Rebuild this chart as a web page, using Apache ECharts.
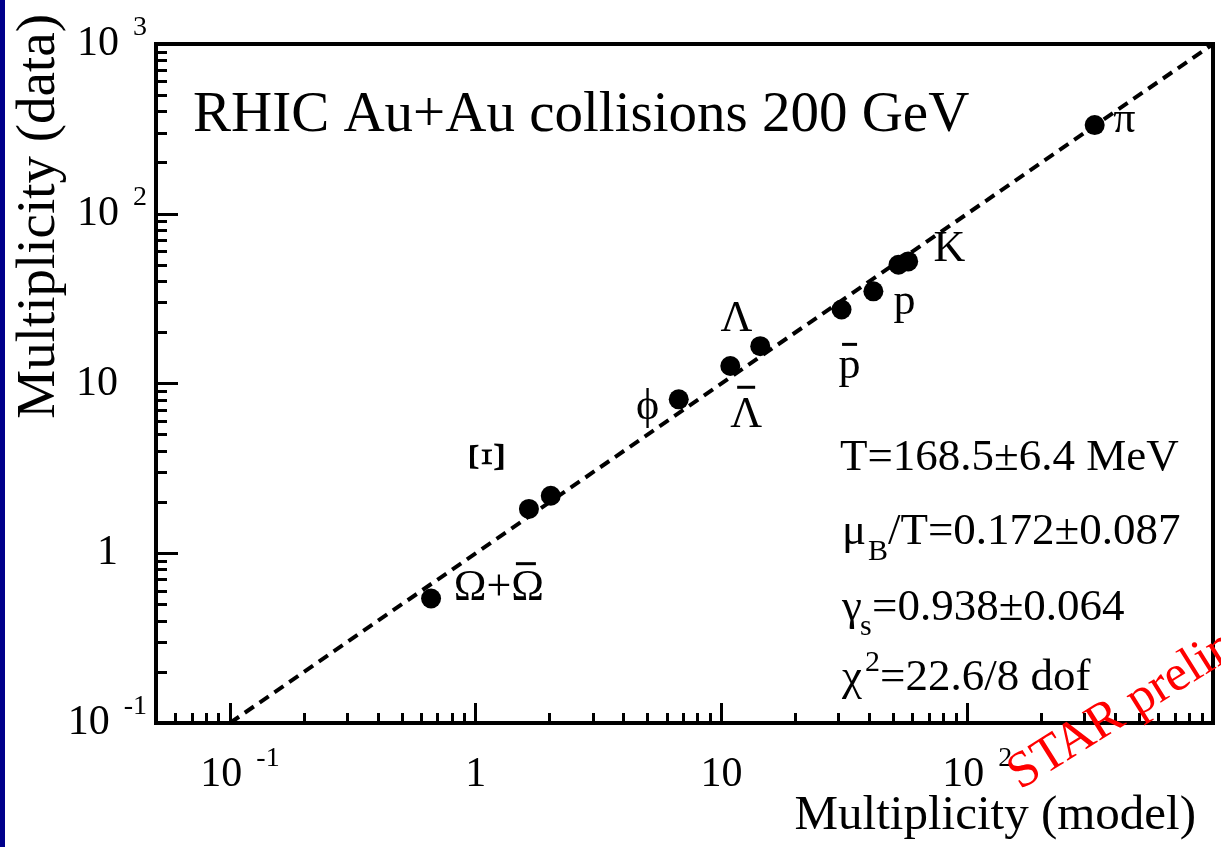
<!DOCTYPE html>
<html><head><meta charset="utf-8">
<script src="https://cdn.jsdelivr.net/npm/echarts@6/dist/echarts.min.js"></script>
<style>html,body{margin:0;padding:0;background:#fff;overflow:hidden}#c{width:1221px;height:847px}</style>
</head><body><div id="c"></div><script>
// ---- data (real units) ----
const particleNames = ['Ω+Ω̄', 'Ξ̄', 'Ξ', 'ϕ', 'Λ̄', 'Λ', 'p̄', 'p', 'K⁻', 'K⁺', 'π'];
const modelValues   = [0.658, 1.646, 2.02, 6.70, 10.86, 14.38, 30.8, 41.5, 52.5, 57.5, 330];
const dataValues    = [0.541, 1.825, 2.18, 8.07, 12.67, 16.6, 27.3, 34.9, 50.1, 52.4, 333];

// annotation labels placed in data units
const labelTexts    = ['π', 'K', 'p', 'p', 'Λ', 'Λ', 'ϕ', 'Ξ', 'Ω+Ω'];
const labelModelPos = [436, 84.5, 55.5, 33.2, 11.5, 12.6, 5.0, 1.14, 1.243];
const labelDataPos  = [356, 61.4, 30.0, 12.6, 23.8, 6.5, 7.24, 3.69, 0.619];
const labelRotate   = [0, 0, 0, 0, 0, 0, 0, 90, 0];
const labelSizes    = [44, 44, 44, 44, 44, 44, 44, 50, 44];
// overbars of the antiparticle labels (p̄, Λ̄, Ω̄)
const barModelPos   = [33.2, 12.6, 1.60];
const barDataPos    = [17.0, 9.5, 0.868];
const barWidths     = [15, 18, 20];

// y = x reference line
const diagX = [0.1, 1000];

// axes
const xRange = [0.05, 1000];
const yRange = [0.1, 1000];
const xTickValues = [0.1, 1, 10, 100];
const xTickLabels = [['10', '-1'], ['1', ''], ['10', ''], ['10', '2']];
const yTickValues = [0.1, 1, 10, 100, 1000];
const yTickLabels = [['10', '-1'], ['1', ''], ['10', ''], ['10', '2'], ['10', '3']];
const minorMultipliers = [2, 3, 4, 5, 6, 7, 8, 9];

const fitParams = ['T=168.5±6.4 MeV', 'μ|B|/T=0.172±0.087', 'γ|s|=0.938±0.064', 'χ|2|=22.6/8 dof'];
const titleText = 'RHIC Au+Au collisions 200 GeV';
const xTitle = 'Multiplicity (model)';
const yTitle = 'Multiplicity (data)';
const watermark = 'STAR preliminary';

// ---- helpers ----
const L = Math.log10;
const SERIF = "'Liberation Serif', 'DejaVu Serif', serif";
function minors(lo, hi) {
  const out = [];
  for (let e = -3; e <= 3; e++) {
    minorMultipliers.forEach(m => {
      const v = m * Math.pow(10, e);
      if (v >= lo * 0.999 && v <= hi * 1.001) out.push(L(v));
    });
  }
  return out;
}
function labelFor(values, labels, isY) {
  return function (v) {
    let idx = 0, best = 1e9;
    values.forEach((t, i) => { const d = Math.abs(L(t) - v); if (d < best) { best = d; idx = i; } });
    const [b, s] = labels[idx];
    if (s) return (isY ? '' : '{lp| }') + '{b|' + b + '}{s|' + s + '}';
    return '{b|' + b + '}' + (isY ? '{sp| }' : '');
  };
}
const rich = {
  b: { fontSize: 42, fontFamily: SERIF, lineHeight: 60, color: '#000' },
  s: { fontSize: 28, fontFamily: SERIF, lineHeight: 28, verticalAlign: 'top', padding: [0, 0, 0, 14], color: '#000' },
  sp: { width: 29, fontSize: 28, fontFamily: SERIF },
  lp: { width: 20, fontSize: 28, fontFamily: SERIF }
};

const grid = { left: 156, right: 8, top: 44, bottom: 124, show: true, borderColor: '#000', borderWidth: 4, backgroundColor: 'transparent' };

const baseAxis = { type: 'value', splitLine: { show: false }, axisLine: { show: false, onZero: false } };

const xAxis = [
  Object.assign({}, baseAxis, {
    min: L(xRange[0]), max: L(xRange[1]), position: 'bottom',
    axisTick: { show: true, inside: true, length: 20, lineStyle: { color: '#000', width: 3 }, customValues: xTickValues.map(L) },
    axisLabel: { show: true, margin: 22, customValues: xTickValues.map(L), formatter: labelFor(xTickValues, xTickLabels, false), rich: rich }
  }),
  Object.assign({}, baseAxis, {
    min: L(xRange[0]), max: L(xRange[1]), position: 'bottom',
    axisTick: { show: true, inside: true, length: 10, lineStyle: { color: '#000', width: 3 }, customValues: minors(xRange[0], xRange[1]) },
    axisLabel: { show: false }
  })
];
const yAxis = [
  Object.assign({}, baseAxis, {
    min: L(yRange[0]), max: L(yRange[1]), position: 'left',
    axisTick: { show: true, inside: true, length: 22, lineStyle: { color: '#000', width: 3 }, customValues: yTickValues.map(L) },
    axisLabel: { show: true, margin: 9, customValues: yTickValues.map(L), formatter: labelFor(yTickValues, yTickLabels, true), rich: rich }
  }),
  Object.assign({}, baseAxis, {
    min: L(yRange[0]), max: L(yRange[1]), position: 'left',
    axisTick: { show: true, inside: true, length: 11, lineStyle: { color: '#000', width: 3 }, customValues: minors(yRange[0], yRange[1]) },
    axisLabel: { show: false }
  })
];

// fit parameter lines (base / sub-or-sup / rest), placed as annotation text
const paramLayout = [
  { x: [840], y: 458 },
  { x: [842, 868, 888], y: 532, dy: 20 },
  { x: [842, 860, 872], y: 608, dy: 19 },
  { x: [842, 865, 880], y: 678, dy: -15 }
];
const graphics = [
  { type: 'rect', left: 0, top: 0, shape: { width: 5, height: 847 }, style: { fill: '#00008b' }, z: 100 },
  { type: 'text', x: 193, y: 116, style: { text: titleText, font: '57px ' + SERIF, fill: '#000', verticalAlign: 'middle' }, z: 100 },
  { type: 'text', x: 1196, y: 816, style: { text: xTitle, font: '49px ' + SERIF, fill: '#000', align: 'right', verticalAlign: 'middle' }, z: 100 },
  { type: 'text', x: 40, y: 14, rotation: Math.PI / 2, style: { text: yTitle, font: '55px ' + SERIF, fill: '#000', align: 'right', verticalAlign: 'middle' }, z: 100 },
  { type: 'text', x: 1013, y: 779, rotation: 32 * Math.PI / 180, style: { text: watermark, font: '51px ' + SERIF, fill: '#ff0000', align: 'left', verticalAlign: 'middle' }, z: 100 }
];
fitParams.forEach((t, i) => {
  const lay = paramLayout[i];
  const parts = t.split('|');
  graphics.push({ type: 'text', x: lay.x[0], y: lay.y, style: { text: parts[0], font: '45px ' + SERIF, fill: '#000', verticalAlign: 'middle' }, z: 100 });
  if (parts.length > 1) {
    graphics.push({ type: 'text', x: lay.x[1], y: lay.y + lay.dy, style: { text: parts[1], font: '30px ' + SERIF, fill: '#000', verticalAlign: 'middle' }, z: 100 });
    graphics.push({ type: 'text', x: lay.x[2], y: lay.y, style: { text: parts[2], font: '45px ' + SERIF, fill: '#000', verticalAlign: 'middle' }, z: 100 });
  }
});

const labelItems = labelTexts.map((t, i) => ({
  name: t, value: [L(labelModelPos[i]), L(labelDataPos[i])],
  label: { rotate: labelRotate[i], formatter: '{t|' + t + '}',
    rich: { t: { fontFamily: SERIF, fontSize: labelSizes[i], color: '#000' } } }
})).concat(barModelPos.map((x, i) => ({
  name: 'bar', value: [L(x), L(barDataPos[i])],
  label: { formatter: '{bar| }', rich: { bar: { width: barWidths[i], height: 3, lineHeight: 3, fontSize: 2, backgroundColor: '#000' } } }
})));

const chart = echarts.init(document.getElementById('c'), null, { renderer: 'canvas' });
chart.setOption({
  animation: false,
  backgroundColor: '#fff',
  grid: grid,
  xAxis: xAxis,
  yAxis: yAxis,
  graphic: graphics,
  series: [
    {
      type: 'line', xAxisIndex: 0, yAxisIndex: 0, symbol: 'none', silent: true,
      data: diagX.map(v => [L(v), L(v)]),
      lineStyle: { color: '#000', width: 4, type: [11, 7] }, z: 2
    },
    {
      type: 'scatter', xAxisIndex: 0, yAxisIndex: 0, symbol: 'circle', symbolSize: 20, silent: true,
      itemStyle: { color: '#000', opacity: 1 },
      data: modelValues.map((v, i) => ({ name: particleNames[i], value: [L(v), L(dataValues[i])] })), z: 3
    },
    {
      type: 'scatter', xAxisIndex: 0, yAxisIndex: 0, symbolSize: 1, silent: true,
      itemStyle: { color: 'rgba(0,0,0,0)', opacity: 1 },
      label: { show: true, position: 'inside', opacity: 1 },
      data: labelItems, z: 4
    }
  ]
});
</script></body></html>
